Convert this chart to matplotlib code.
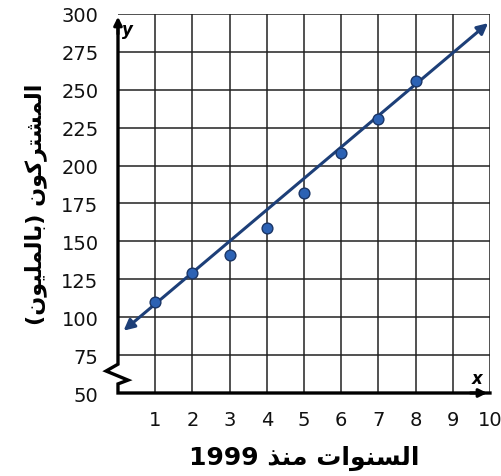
import numpy as np
import matplotlib.pyplot as plt

# data
years = [1, 2, 3, 4, 5, 6, 7, 8]
subscribers = [110, 129, 141, 159, 182, 208, 231, 256]
fit_x = [0.15, 9.95]
fit_intercept = 88
fit_slope = 20.7
x_ticks = [1, 2, 3, 4, 5, 6, 7, 8, 9, 10]
y_ticks = [50, 75, 100, 125, 150, 175, 200, 225, 250, 275, 300]

# arabic labels, pre-shaped (presentation forms, visual order)
xlabel = "1999 " + "\uFEAC\uFEE8\uFEE3" + " " + "\uFE95\uFE8D\uFEEE\uFEE8\uFEB4\uFEDF\uFE8D"
ylabel = ("(" + "\uFEE5\uFEEE\uFEF4\uFEE0\uFEE4\uFEDF\uFE8E\uFE91" + ")" + " "
          + "\uFEE5\uFEEE\uFEDB\uFEAE\uFE98\uFEB8\uFEE4\uFEDF\uFE8D")

plt.rcParams['font.family'] = ['DejaVu Sans', 'Noto Sans']

fig = plt.figure(figsize=(5.01, 4.77), dpi=100)
ax = fig.add_axes([0.2355, 0.174, 0.7425, 0.7946])
ax.set_xlim(0, 10)
ax.set_ylim(50, 300)

# grid
for gx in x_ticks:
    ax.axvline(gx, color='#222222', lw=1.1, zorder=1)
for gy in y_ticks[1:]:
    ax.axhline(gy, color='#222222', lw=1.1, zorder=1)

for s in ax.spines.values():
    s.set_visible(False)

# axes with break on y axis
ax.plot([0, 0, -0.32, 0.27, 0, 0, 10], [292, 69, 64.5, 58.5, 56, 50, 50],
        color='black', lw=2.4, clip_on=False, zorder=3, solid_joinstyle='miter')
ax.annotate('', xy=(0, 300), xytext=(0, 285),
            arrowprops=dict(arrowstyle='-|>', color='black', lw=2.2, mutation_scale=12),
            annotation_clip=False, zorder=3)
ax.annotate('', xy=(10, 50), xytext=(9.4, 50),
            arrowprops=dict(arrowstyle='-|>', color='black', lw=2.2, mutation_scale=12),
            annotation_clip=False, zorder=3)
ax.text(0.12, 296, 'y', fontsize=12, fontweight='bold', style='italic', va='top', ha='left')
ax.text(9.65, 54, 'x', fontsize=12, fontweight='bold', style='italic', va='bottom', ha='center')

# fit line with arrows on both ends
fy = [fit_intercept + fit_slope * v for v in fit_x]
ax.annotate('', xy=(fit_x[1], fy[1]), xytext=(fit_x[0], fy[0]),
            arrowprops=dict(arrowstyle='<|-|>', color='#1d3f78', lw=2.2, mutation_scale=16,
                            shrinkA=0, shrinkB=0),
            annotation_clip=False, zorder=4)

ax.scatter(years, subscribers, s=60, color='#2c62b4', edgecolor='#1a3566', linewidth=1, zorder=5)

ax.set_xticks(x_ticks)
ax.set_yticks(y_ticks)
ax.tick_params(length=0, labelsize=14, colors='#111111')
ax.tick_params(axis='x', pad=12)
ax.tick_params(axis='y', pad=14)

ax.set_xlabel(xlabel, fontsize=18, fontweight='bold', labelpad=12)
ax.set_ylabel(ylabel, fontsize=16, fontweight='bold', labelpad=10)

fig.savefig('out.png', dpi=100)
